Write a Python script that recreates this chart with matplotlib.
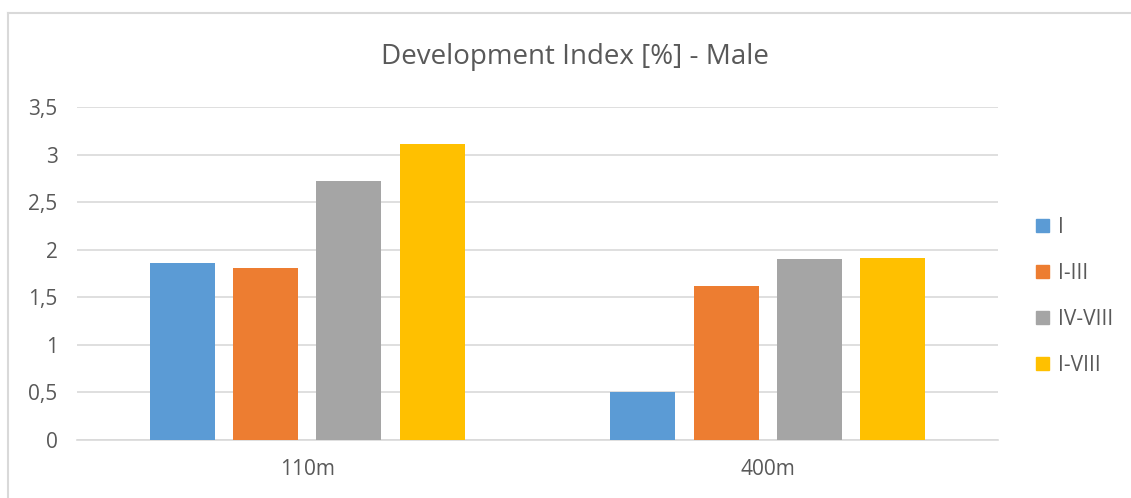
import matplotlib.pyplot as plt
import numpy as np
from matplotlib.lines import Line2D
from matplotlib.ticker import FuncFormatter

categories = ["110m", "400m"]
series = ["I", "I-III", "IV-VIII", "I-VIII"]
values_i = [1.86, 0.50]
values_i_iii = [1.81, 1.62]
values_iv_viii = [2.72, 1.90]
values_i_viii = [3.11, 1.91]
colors = ["#5b9bd5", "#ed7d31", "#a5a5a5", "#ffc000"]

all_values = [values_i, values_i_iii, values_iv_viii, values_i_viii]
text_color = "#595959"

plt.rcParams["font.family"] = ["Open Sans", "DejaVu Sans"]

fig = plt.figure(figsize=(11.31, 4.98), dpi=100)
ax = fig.add_axes([0.0681, 0.1165, 0.8143, 0.6686])

x = np.arange(len(categories))
width = 0.141
pitch = 0.181
for i, (name, vals) in enumerate(zip(series, all_values)):
    offset = (i - 1.5) * pitch
    ax.bar(x + offset, vals, width, color=colors[i], label=name, zorder=3)

ax.set_xlim(-0.5, 1.5)
ax.set_ylim(0, 3.5)
ax.set_yticks(np.arange(0, 3.51, 0.5))
ax.yaxis.set_major_formatter(
    FuncFormatter(lambda v, _: f"{v:g}".replace(".", ","))
)
ax.set_xticks(x)
ax.set_xticklabels(categories)
ax.grid(axis="y", color="#d9d9d9", linewidth=1.2, zorder=0)
for side in ["top", "right", "left"]:
    ax.spines[side].set_visible(False)
ax.spines["bottom"].set_color("#d9d9d9")
ax.spines["bottom"].set_linewidth(1.2)
ax.tick_params(axis="both", length=0, labelsize=15, labelcolor=text_color)
ax.tick_params(axis="y", pad=14)
ax.tick_params(axis="x", pad=14)

fig.text(0.508, 0.885, "Development Index [%] - Male", ha="center", va="center",
         fontsize=20, color=text_color)

handles = [plt.Rectangle((0, 0), 1, 1, color=c) for c in colors]
fig.legend(handles, series, loc="upper left", bbox_to_anchor=(0.907, 0.585),
           frameon=False, fontsize=15, labelcolor=text_color,
           handlelength=0.6, handleheight=0.6, handletextpad=0.45,
           labelspacing=1.2, borderpad=0)

# outer chart border (top and left edges visible)
fig.add_artist(Line2D([8 / 1131, 1], [1 - 13 / 498, 1 - 13 / 498],
                      color="#d9d9d9", linewidth=1.5, transform=fig.transFigure))
fig.add_artist(Line2D([8 / 1131, 8 / 1131], [0, 1 - 13 / 498],
                      color="#d9d9d9", linewidth=1.5, transform=fig.transFigure))

fig.savefig("out.png", dpi=100)
